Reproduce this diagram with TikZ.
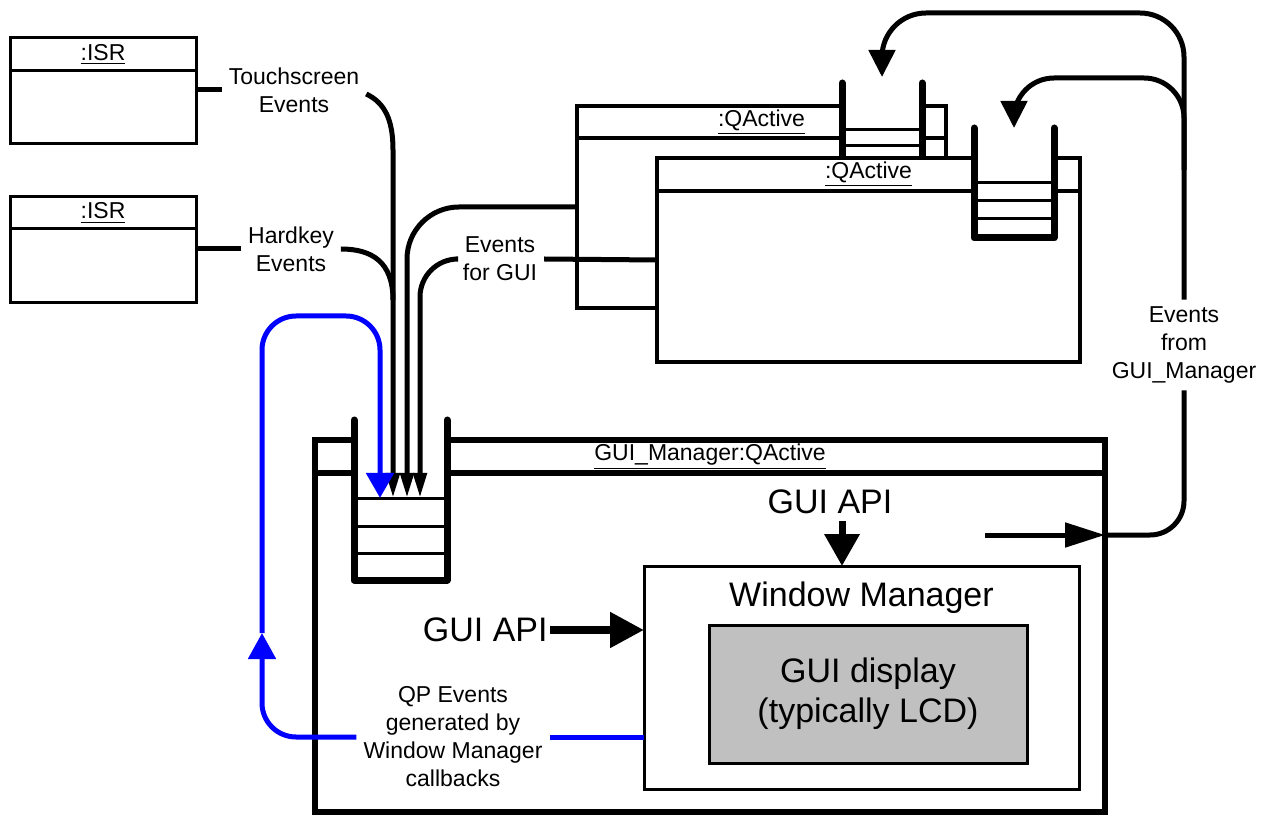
\documentclass[tikz,border=0pt]{standalone}
\usepackage{fontspec}
\setmainfont{Liberation Sans}
\usetikzlibrary{arrows.meta, positioning}
\newcommand{\smalltxt}{\fontsize{11.5}{14}\selectfont}
\newcommand{\bigtxt}{\fontsize{17}{20}\selectfont}
\definecolor{lcdgray}{RGB}{192,192,192}
\tikzset{
    lbl/.style={font=\smalltxt, align=center}, % labels of the event lines
    isrbox/.style={draw, fill=white, line width=1.5pt, outer sep=0pt, minimum width=93pt, minimum height=53pt},
    actbox/.style={draw, fill=white, line width=2pt, outer sep=0pt}, % active objects
    evline/.style={line width=2.5pt}, % event connectors
    cbline/.style={line width=2.5pt, blue}, % callback events
    qwall/.style={draw, fill=white, line width=3.5pt, line cap=round, line join=round}, % event queues
    qslot/.style={line width=1.5pt},
    intip/.style={-{Triangle[length=12.5pt, width=6.5pt]}}, % arrows into a queue
    looptip/.style={-{Triangle[length=13.5pt, width=13pt]}},
}

\begin{document}
\begin{tikzpicture}[x=0.5pt, y=-0.5pt]
    \useasboundingbox (0,0) rectangle (1268,817);

    % interrupt service routines
    \node[isrbox] (isrA) at (103,91) {};
    \draw[line width=1.5pt] ([yshift=-16.5pt]isrA.north west) -- ([yshift=-16.5pt]isrA.north east);
    \node[lbl] at ([yshift=-8.25pt]isrA.north) {\underline{:ISR}};
    \node[isrbox] (isrB) at (103,250) {};
    \draw[line width=1.5pt] ([yshift=-16pt]isrB.north west) -- ([yshift=-16pt]isrB.north east);
    \node[lbl] at ([yshift=-8pt]isrB.north) {\underline{:ISR}};

    % other active objects
    \node[actbox, minimum width=184.5pt, minimum height=101pt] (qaBack) at (761.5,207) {};
    \draw[line width=2pt] ([yshift=-16pt]qaBack.north west) -- ([yshift=-16pt]qaBack.north east);
    \node[lbl] at ([yshift=-8pt]qaBack.north) {\underline{:QActive}};
    \filldraw[qwall] (842,83) -- (842,175) -- (922,175) -- (922,83);
    \foreach \y in {130,146}
        \draw[qslot] (842,\y) -- (922,\y);

    \node[actbox, minimum width=211.5pt, minimum height=102pt] (qaFront) at (868.5,260) {};
    \draw[line width=2pt] ([yshift=-16.5pt]qaFront.north west) -- ([yshift=-16.5pt]qaFront.north east);
    \node[lbl] at ([yshift=-8.25pt]qaFront.north) {\underline{:QActive}};
    \filldraw[qwall] (974,128) -- (974,238) -- (1054,238) -- (1054,128);
    \foreach \y in {183,201,219}
        \draw[qslot] (974,\y) -- (1054,\y);

    % GUI manager
    \node[draw, line width=3pt, outer sep=0pt, minimum width=395pt, minimum height=186pt] (guiMgr) at (710,626) {};
    \draw[line width=3pt] ([yshift=-16.5pt]guiMgr.north west) -- ([yshift=-16.5pt]guiMgr.north east);
    \node[lbl] at ([yshift=-8.25pt]guiMgr.north) {\underline{GUI\_Manager:QActive}};
    \filldraw[qwall] (354,420) -- (354,580) -- (447,580) -- (447,420);
    \foreach \y in {499,527,553}
        \draw[qslot] (354,\y) -- (447,\y);
    \coordinate (tipBlue) at (380,498);
    \coordinate (tipTs) at (393,498);
    \coordinate (tipQa) at (407,498);
    \coordinate (tipEf) at (420,498);

    \node[draw, line width=1.5pt, outer sep=0pt, minimum width=217.5pt, minimum height=111.5pt] (winMgr) at (861.5,677.5) {};
    \node[font=\bigtxt] at ([yshift=-16pt]winMgr.north) {Window Manager};
    \node[draw, fill=lcdgray, line width=1.5pt, minimum width=159pt, minimum height=69pt, font=\bigtxt, align=center] (lcd) at (868,694) {GUI display\\(typically LCD)};

    \node[font=\bigtxt, anchor=east, inner sep=1pt] (apiL) at (550,630) {GUI API};
    \draw[line width=4pt, -{Triangle[length=17pt, width=17pt]}] (apiL.east) -- (apiL -| winMgr.west);
    \node[font=\bigtxt] (apiT) at (830,502) {GUI API};
    \draw[line width=3.5pt, -{Triangle[length=16pt, width=17pt]}] ([xshift=6pt]apiT.south) -- ([xshift=6pt]apiT.south |- winMgr.north);

    % events posted to the GUI manager
    \node[lbl] (tsLabel) at (294,90) {Touchscreen\\Events};
    \node[lbl] (hkLabel) at (291,249) {Hardkey\\Events};
    \node[lbl] (efLabel) at (500,259) {Events\\for GUI};
    \draw[evline] (isrA.east |- tsLabel) -- (tsLabel.west);
    \draw[evline] (isrB.east |- hkLabel) -- (hkLabel.west);
    \draw[evline, intip] ([yshift=-2pt]tsLabel.east) .. controls (385,103) and (393,120) .. (393,150) -- (tipTs);
    \draw[evline] (hkLabel.east) .. controls (372,249) and (393,262) .. (393,300);
    \draw[evline, intip, rounded corners=26pt] (qaBack.west) -- (407,207) -- (tipQa);
    \draw[evline] (qaFront.west) -- (efLabel.east);
    \draw[evline, intip, rounded corners=19pt] (efLabel.west) -- (420,259) -- (tipEf);

    % callbacks from the window manager
    \node[lbl] (qpLabel) at (453,737) {QP Events\\generated by\\Window Manager\\callbacks};
    \coordinate (fbMid) at (262,633);
    \draw[cbline] (winMgr.west |- qpLabel) -- (qpLabel.east);
    \draw[cbline, rounded corners=17pt, -{Triangle[length=13pt, width=13.5pt]}] (qpLabel.west) -- (262,737) -- (fbMid);
    \draw[cbline, rounded corners=17pt, -{Triangle[length=12.5pt, width=13.5pt]}] (fbMid) -- (262,316) -- (380,316) -- (tipBlue);

    % events published by the GUI manager
    \node[lbl] (evFrom) at (1184,345) {Events\\from\\GUI\_Manager};
    \coordinate (mgrOut) at (985,535);
    \coordinate (branch) at (1184,170);
    \draw[evline, -{Triangle[length=20pt, width=12pt]}] (mgrOut) -- (mgrOut -| guiMgr.east);
    \draw[evline, rounded corners=17pt] (mgrOut -| guiMgr.east) -- (1184,535) -- (evFrom.south);
    \draw[evline, looptip, rounded corners=22pt] (evFrom.north) -- (1184,13) -- (882,13) -- (882,77);
    \draw[evline, looptip, rounded corners=20pt] (branch) -- (1184,78) -- (1014,78) -- (1014,128);
\end{tikzpicture}
\end{document}
